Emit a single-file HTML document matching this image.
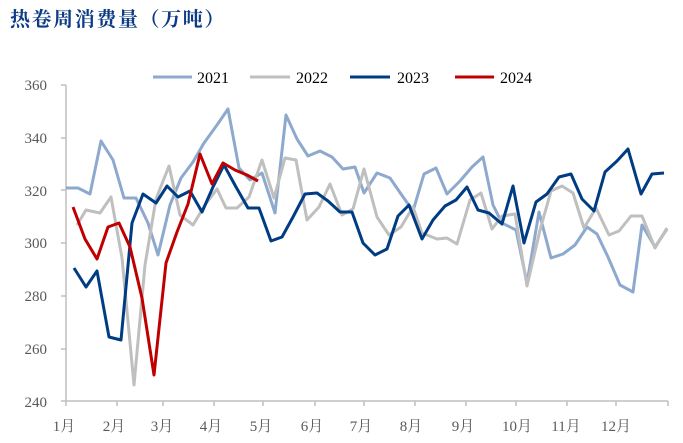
<!DOCTYPE html><html><head><meta charset="utf-8"><style>body{margin:0;background:#fff}svg{display:block}</style></head><body>
<svg width="683" height="443" xmlns="http://www.w3.org/2000/svg" font-family="'Liberation Serif','Noto Serif CJK SC',serif">
<text x="10" y="26" font-size="20" letter-spacing="1.6" font-weight="bold" fill="#0D3C84" font-family="'Liberation Serif','Noto Serif CJK SC',serif">热卷周消费量（万吨）</text>
<g font-size="15" fill="#595959" text-anchor="end">
<text x="47" y="90">360</text><text x="47" y="143">340</text><text x="47" y="196">320</text><text x="47" y="248">300</text><text x="47" y="301">280</text><text x="47" y="354">260</text><text x="47" y="407">240</text></g>
<g stroke="#BFBFBF" stroke-width="1.5" fill="none">
<path d="M66 85V401H668"/>
<path d="M61 85H66M61 138H66M61 190H66M61 243H66M61 296H66M61 349H66M61 401H66"/>
<path d="M66 401v5M117 401v5M163 401v5M214 401v5M263 401v5M315 401v5M364 401v5M415 401v5M466 401v5M516 401v5M567 401v5M616 401v5M668 401v5"/></g>
<g font-size="15" fill="#595959" text-anchor="middle">
<text x="64" y="431">1月</text><text x="114" y="431">2月</text><text x="162" y="431">3月</text><text x="211" y="431">4月</text><text x="261" y="431">5月</text><text x="312" y="431">6月</text><text x="361" y="431">7月</text><text x="411" y="431">8月</text><text x="463" y="431">9月</text><text x="517" y="431">10月</text><text x="566" y="431">11月</text><text x="616" y="431">12月</text></g>
<g font-size="16" fill="#000">
<line x1="153" y1="77" x2="192" y2="77" stroke="#8EA9CE" stroke-width="3"/><text x="197" y="83">2021</text>
<line x1="250" y1="77" x2="290" y2="77" stroke="#BFBFBF" stroke-width="3"/><text x="296" y="83">2022</text>
<line x1="350" y1="77" x2="390" y2="77" stroke="#003C84" stroke-width="3"/><text x="397" y="83">2023</text>
<line x1="455" y1="77" x2="494" y2="77" stroke="#C00000" stroke-width="3"/><text x="500" y="83">2024</text></g>
<g fill="none" stroke-width="3" stroke-linejoin="round">
<polyline stroke="#8EA9CE" points="66,188 78,188 90,194 101,141 113,160 124,198 136,198 148,223 158,255 170,205 181,178 193,162 204,143 217,125 228,109 239,168 250,180 262,173 275,213 286,115 297,139 308,156 320,151 332,157 343,169 355,167 364,193 377,173 390,178 401,194 413,211 424,174 436,168 447,194 460,181 472,167 483,157 493,205 502,223 516,230 527,283 539,212 551,258 563,254 575,245 587,227 597,234 608,257 620,285 633,292 642,225 655,247 667,229"/>
<polyline stroke="#BFBFBF" points="77,225 86,210 100,213 111,197 122,258 134,385 145,265 156,199 169,166 180,215 193,225 205,205 217,189 226,208 237,208 249,197 262,160 274,198 285,158 296,160 307,220 319,207 330,184 342,215 353,209 364,169 377,217 389,235 401,227 413,207 422,233 437,239 447,238 457,244 470,200 481,193 492,229 502,216 515,214 527,286 540,230 551,191 562,186 573,193 584,228 596,208 609,235 619,231 631,216 642,216 655,248 667,228"/>
<polyline stroke="#003C84" points="74,268 86,287 97,271 109,337 121,340 132,223 143,194 156,203 167,186 178,197 190,191 202,212 213,187 224,165 236,187 248,208 259,208 271,241 282,237 293,217 305,194 317,193 328,201 340,212 352,212 363,243 375,255 387,249 398,216 409,205 422,239 433,220 445,206 456,200 467,187 478,210 489,213 502,224 513,186 524,243 536,202 547,194 559,177 571,174 582,199 594,211 605,172 617,161 628,149 641,194 652,174 664,173"/>
<polyline stroke="#C00000" points="73,207 85,239 97,259 108,227 119,223 130,247 142,298 154,375 166,263 177,232 188,204 200,154 212,184 223,163 235,170 247,175 258,181"/>
</g></svg></body></html>
